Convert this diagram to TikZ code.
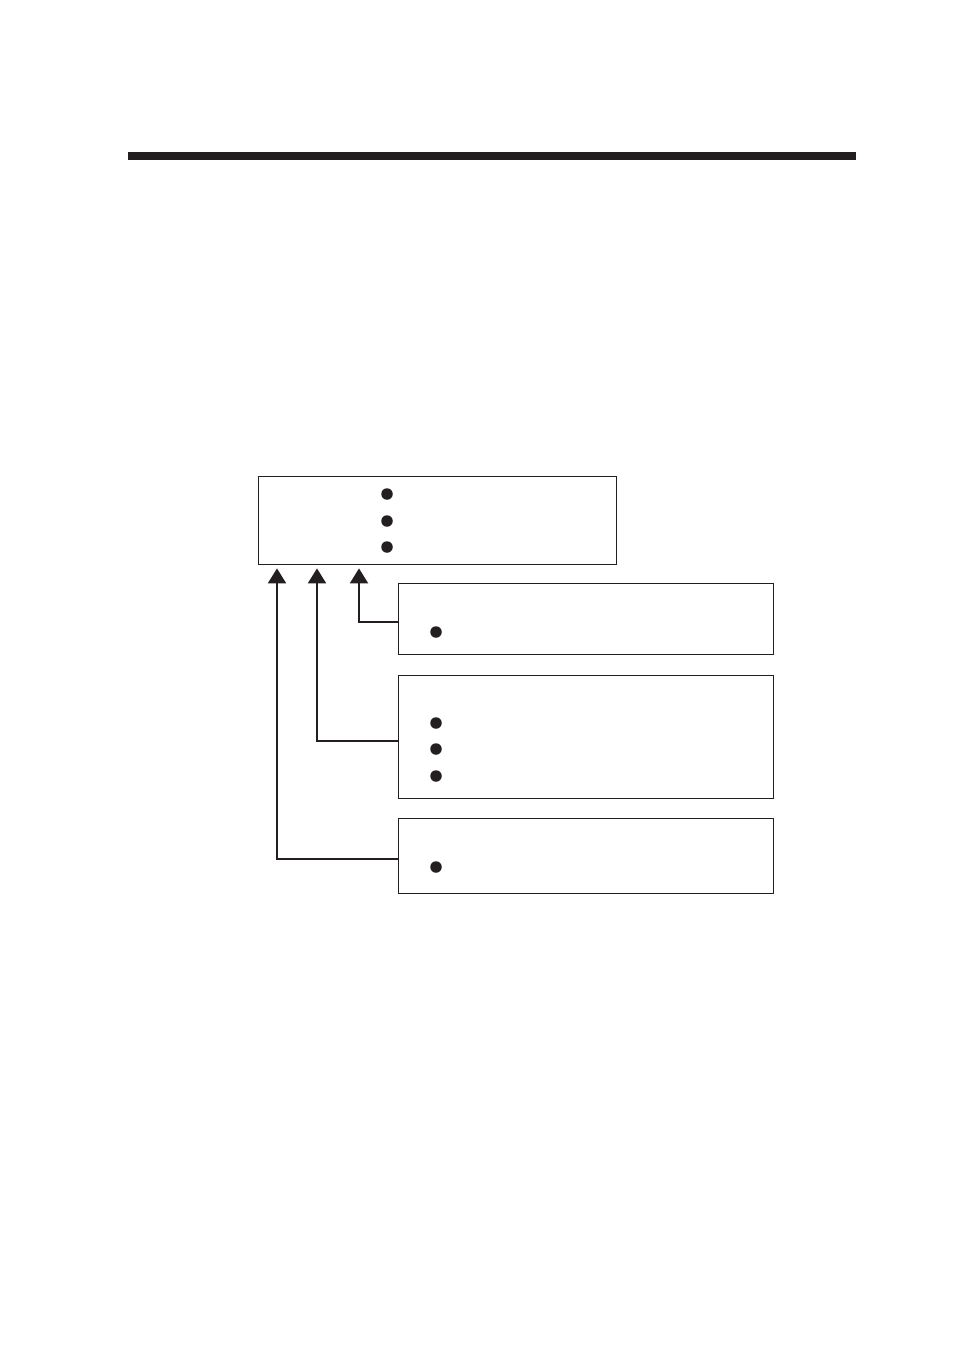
\documentclass[tikz,border=0pt]{standalone}
\usetikzlibrary{arrows.meta}
\definecolor{ink}{HTML}{231F20}
\begin{document}
\begin{tikzpicture}[x=1pt,y=-1pt,
  boxstyle/.style={draw=ink,line width=1.4pt,rectangle,inner sep=0pt,anchor=north west},
  dot/.style={circle,fill=ink,inner sep=0pt,minimum size=11.5pt},
  conn/.style={draw=ink,line width=2.2pt,-{Triangle[length=15pt,width=18pt]},shorten >=3pt}]
\useasboundingbox (0,0) rectangle (954,1352);
\fill[ink] (128,152) rectangle (856,160);
\node[boxstyle,minimum width=358pt,minimum height=88pt] (top) at (258,476) {};
\node[dot] (t1) at (387,494) {};
\node[dot] (t2) at (387,521) {};
\node[dot] (t3) at (387,547) {};
\node[boxstyle,minimum width=375pt,minimum height=71pt] (b1) at (398,583) {};
\node[dot] (d1) at (436,632) {};
\node[boxstyle,minimum width=375pt,minimum height=123pt] (b2) at (398,675) {};
\node[dot] (d2) at (436,723) {};
\node[dot] (d3) at (436,749) {};
\node[dot] (d4) at (436,776) {};
\node[boxstyle,minimum width=375pt,minimum height=75pt] (b3) at (398,818) {};
\node[dot] (d5) at (436,867) {};
\draw[conn] ([yshift=-3pt]b1.west) -| (top.south -| 359,0);
\draw[conn] ([yshift=-3.5pt]b2.west) -| (top.south -| 317,0);
\draw[conn] ([yshift=-3pt]b3.west) -| (top.south -| 277,0);
\end{tikzpicture}
\end{document}
